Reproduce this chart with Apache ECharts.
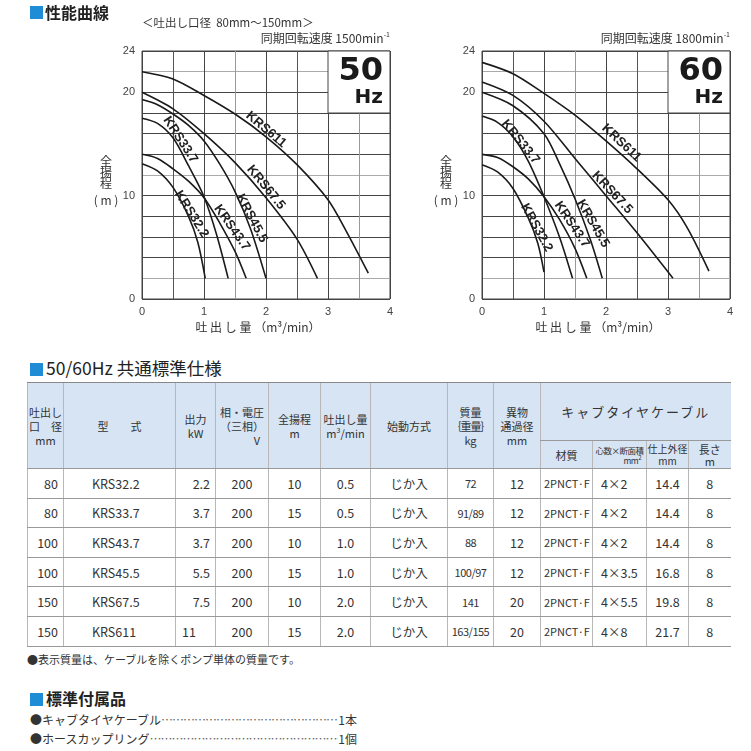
<!DOCTYPE html>
<html>
<head>
<meta charset="utf-8">
<title>性能曲線</title>
<script src="https://cdn.jsdelivr.net/npm/echarts@6/dist/echarts.min.js"></script>
<style>
body { margin: 0; background: #fff; font-family: "Noto Sans CJK JP", sans-serif; color: #333; }
#page { position: relative; width: 751px; height: 751px; overflow: hidden; }
#curves { position: absolute; left: 0; top: 0; width: 751px; height: 345px; }
.sec { position: absolute; left: 30px; font-size: 16px; line-height: 18px; color: #222; white-space: nowrap; }
.sec .sq { display: inline-block; width: 13px; height: 13px; background: #1f8dd6; margin-right: 3px; vertical-align: -1px; }
#spec { position: absolute; left: 27px; top: 382px; width: 703px; border-collapse: collapse; table-layout: fixed; font-size: 12.5px; color: #333; }
#spec th { background: #d6e4f4; font-weight: normal; font-size: 11px; line-height: 14px; padding: 0; border-left: 1px solid #b8b8b8; border-bottom: 1px solid #999; text-align: center; white-space: nowrap; overflow: hidden; }
#spec thead tr:first-child th { border-top: 1px solid #888; }
#spec td { height: 28.6px; padding: 0; border-left: 1px solid #b8b8b8; border-bottom: 1px solid #999; text-align: center; white-space: nowrap; overflow: hidden; }
#spec td.r { text-align: right; padding-right: 5px; }
#spec td.l { text-align: left; padding-left: 28px; }
#spec td.m { text-align: left; padding-left: 3px; font-size: 11px; }
#spec td.c4 { text-align: left; padding-left: 8px; }
.note { position: absolute; left: 27px; top: 651px; font-size: 11px; color: #333; }
.acc { position: absolute; left: 30px; width: 327px; display: flex; font-size: 12px; line-height: 14px; color: #333; white-space: nowrap; }
.acc .dots { flex: 1; overflow: hidden; color: #666; letter-spacing: -1px; }
</style>
</head>
<body>
<div id="page">
  <div id="curves"></div>
  <div class="sec" style="top:358px;font-size:17.5px;line-height:20px"><span class="sq"></span>50/60Hz 共通標準仕様</div>
  <table id="spec">
    <colgroup id="cols"></colgroup>
    <thead>
      <tr style="height:58px">
        <th rowspan="2">吐出し<br>口　径<br>mm</th>
        <th rowspan="2">型　　式</th>
        <th rowspan="2">出力<br>kW</th>
        <th rowspan="2">相・電圧<br>（三相）<br><span style="display:block;text-align:right;padding-right:8px">V</span></th>
        <th rowspan="2">全揚程<br>m</th>
        <th rowspan="2">吐出し量<br>m<sup style="font-size:7px;line-height:0">3</sup>/min</th>
        <th rowspan="2">始動方式</th>
        <th rowspan="2">質量<br><span style="letter-spacing:-1px">｛重量｝</span><br>kg</th>
        <th rowspan="2">異物<br>通過径<br>mm</th>
        <th colspan="4" style="font-size:13px;letter-spacing:2px">キャブタイヤケーブル</th>
      </tr>
      <tr style="height:28px">
        <th>材質</th>
        <th style="font-size:8.5px;line-height:10px;letter-spacing:-0.5px">心数×断面積<br><span style="display:block;text-align:right;padding-right:5px">mm<sup style="font-size:6px;line-height:0">2</sup></span></th>
        <th style="font-size:10px;line-height:12px">仕上外径<br>mm</th>
        <th style="line-height:12px">長さ<br>m</th>
      </tr>
    </thead>
    <tbody id="specBody"></tbody>
  </table>
  <div class="note">●表示質量は、ケーブルを除くポンプ単体の質量です。</div>
  <div class="sec" style="top:689px;font-weight:bold"><span class="sq"></span>標準付属品</div>
  <div class="acc" style="top:713px"><span>●キャブタイヤケーブル</span><span class="dots">……………………………………………………………………</span><span>1本</span></div>
  <div class="acc" style="top:732px"><span>●ホースカップリング</span><span class="dots">……………………………………………………………………</span><span>1個</span></div>
</div>
<script>
// head (m) against flow (m3/min)
const flowTicks = [0, 1, 2, 3, 4];
const headTicks = [0, 10, 20, 24];

const krs322_50 = [[0, 13.1], [0.25, 12.4], [0.5, 10.8], [0.75, 8.0], [0.9, 5.5], [1.02, 2.0]];
const krs337_50 = [[0, 17.5], [0.25, 17.0], [0.5, 15.6], [0.75, 12.9], [1.0, 9.9], [1.2, 6.3], [1.39, 2.0]];
const krs437_50 = [[0, 14.0], [0.25, 13.6], [0.5, 12.6], [0.75, 11.4], [1.0, 9.8], [1.25, 7.4], [1.5, 4.6], [1.68, 2.0]];
const krs455_50 = [[0, 19.3], [0.25, 18.8], [0.5, 17.9], [0.75, 16.8], [1.0, 15.3], [1.25, 13.1], [1.5, 10.4], [1.75, 6.8], [2.0, 2.0]];
const krs675_50 = [[0, 20.0], [0.5, 18.4], [1.0, 16.0], [1.5, 13.2], [2.0, 9.8], [2.5, 5.8], [2.83, 2.0]];
const krs611_50 = [[0, 22.0], [0.5, 21.3], [1.0, 19.7], [1.5, 17.9], [2.0, 15.7], [2.5, 13.0], [3.0, 9.6], [3.3, 6.5], [3.65, 2.5]];

const krs322_60 = [[0, 13.0], [0.25, 12.3], [0.5, 10.7], [0.75, 7.8], [0.9, 5.4], [1.0, 2.6]];
const krs337_60 = [[0, 17.7], [0.25, 17.1], [0.5, 15.7], [0.75, 13.3], [1.0, 9.9], [1.25, 6.0], [1.46, 2.0]];
const krs437_60 = [[0, 14.0], [0.25, 13.7], [0.5, 12.8], [0.75, 11.6], [1.0, 9.9], [1.25, 7.7], [1.5, 4.9], [1.69, 2.0]];
const krs455_60 = [[0, 20.0], [0.5, 18.7], [1.0, 16.0], [1.25, 13.1], [1.5, 9.7], [1.75, 5.7], [1.94, 2.0]];
const krs675_60 = [[0, 21.0], [0.5, 19.7], [1.0, 17.2], [1.5, 13.6], [2.0, 10.0], [2.5, 6.4], [3.08, 2.0]];
const krs611_60 = [[0, 22.9], [0.5, 21.8], [1.0, 19.9], [1.5, 17.8], [2.0, 15.3], [2.5, 12.6], [3.0, 9.6], [3.3, 7.0], [3.66, 2.7]];

const modelNames = ['KRS32.2', 'KRS33.7', 'KRS43.7', 'KRS45.5', 'KRS67.5', 'KRS611'];

// spec table columns
const boreMm = ['80', '80', '100', '100', '150', '150'];
const outputKw = ['2.2', '3.7', '3.7', '5.5', '7.5', '11'];
const voltageV = ['200', '200', '200', '200', '200', '200'];
const ratedHead = ['10', '15', '10', '15', '10', '15'];
const ratedFlow = ['0.5', '0.5', '1.0', '1.0', '2.0', '2.0'];
const startMethod = ['じか入', 'じか入', 'じか入', 'じか入', 'じか入', 'じか入'];
const massKg = ['72', '91/89', '88', '100/97', '141', '163/155'];
const solidsMm = ['12', '12', '12', '12', '20', '20'];
const cableType = ['2PNCT·F', '2PNCT·F', '2PNCT·F', '2PNCT·F', '2PNCT·F', '2PNCT·F'];
const cableCores = ['4×2', '4×2', '4×2', '4×3.5', '4×5.5', '4×8'];
const cableOd = ['14.4', '14.4', '14.4', '16.8', '19.8', '21.7'];
const cableLen = ['8', '8', '8', '8', '8', '8'];

// where the model names sit on each sheet: [flow, head, angle]
const tagSpots50 = [[0.8, 8.2, -58], [0.62, 15.4, -57], [1.45, 6.9, -55], [1.77, 7.8, -62], [2.0, 10.8, -51], [2.0, 16.4, -40]];
const tagSpots60 = [[0.88, 6.9, -61], [0.62, 15.2, -51], [1.45, 7.2, -56], [1.79, 7.3, -60], [2.1, 10.3, -47], [2.25, 15.1, -43]];

const colWidths = [36, 112, 40, 53, 52, 50, 77, 46, 47, 52, 54, 42, 42];

// ---- table ----
document.getElementById('cols').innerHTML = colWidths.map(w => '<col style="width:' + w + 'px">').join('');
let rows = '';
for (let i = 0; i < modelNames.length; i++) {
	rows += '<tr>' +
		'<td class="r">' + boreMm[i] + '</td>' +
		'<td class="l">' + modelNames[i] + '</td>' +
		'<td class="r"' + (outputKw[i] === '11' ? ' style="text-align:left;padding-left:6px"' : '') + '>' + outputKw[i] + '</td>' +
		'<td>' + voltageV[i] + '</td>' +
		'<td>' + ratedHead[i] + '</td>' +
		'<td>' + ratedFlow[i] + '</td>' +
		'<td>' + startMethod[i] + '</td>' +
		'<td style="font-size:11px;letter-spacing:-0.5px">' + massKg[i] + '</td>' +
		'<td>' + solidsMm[i] + '</td>' +
		'<td class="m">' + cableType[i] + '</td>' +
		'<td class="c4">' + cableCores[i] + '</td>' +
		'<td>' + cableOd[i] + '</td>' +
		'<td>' + cableLen[i] + '</td>' +
		'</tr>';
}
document.getElementById('specBody').innerHTML = rows;

// ---- curves ----
const chart = echarts.init(document.getElementById('curves'), null, { renderer: 'canvas' });

const xLineColors = ['#444', '#555', '#444', '#999', '#444', '#555', '#444', '#999', '#444'];
const yLineColors = ['#444', '#aaa', '#444', '#444', '#444', '#444', '#aaa', '#444', '#444', '#444', '#444', '#aaa', '#444'];

const grids = [
	{ left: 142, top: 51, width: 248, height: 248, show: true, borderColor: '#444', borderWidth: 1 },
	{ left: 482, top: 51, width: 248, height: 248, show: true, borderColor: '#444', borderWidth: 1 }
];

const makeX = idx => ({
	type: 'value', gridIndex: idx, min: 0, max: 4, interval: 0.5,
	axisLine: { show: false }, axisTick: { show: false },
	axisLabel: {
		margin: 7, fontSize: 11, color: '#444', fontFamily: 'Liberation Sans',
		formatter: v => (flowTicks.indexOf(v) >= 0 ? String(v) : '')
	},
	splitLine: { show: true, lineStyle: { color: xLineColors, width: 1 } }
});
const makeY = idx => ({
	type: 'value', gridIndex: idx, min: 0, max: 24, interval: 2,
	axisLine: { show: false }, axisTick: { show: false },
	axisLabel: {
		margin: 7, fontSize: 11, color: '#444', fontFamily: 'Liberation Sans',
		formatter: v => (headTicks.indexOf(v) >= 0 ? String(v) : '')
	},
	splitLine: { show: true, lineStyle: { color: yLineColors, width: 1 } }
});

const sheets = [
	{ curves: [krs322_50, krs337_50, krs437_50, krs455_50, krs675_50, krs611_50], tags: tagSpots50 },
	{ curves: [krs322_60, krs337_60, krs437_60, krs455_60, krs675_60, krs611_60], tags: tagSpots60 }
];

const series = [];
sheets.forEach((sheet, g) => {
	sheet.curves.forEach((pts, k) => {
		const tag = sheet.tags[k];
		series.push({
			name: modelNames[k] + (g === 0 ? ' 50Hz' : ' 60Hz'),
			type: 'line',
			xAxisIndex: g,
			yAxisIndex: g,
			data: pts,
			smooth: 0.3,
			symbol: 'none',
			lineStyle: { color: '#1a1a1a', width: 1.6 },
			silent: true,
			markPoint: {
				symbol: 'circle', symbolSize: 1, silent: true,
				itemStyle: { color: 'rgba(0,0,0,0)' },
				label: {
					show: true, position: 'inside', formatter: modelNames[k], rotate: tag[2],
					fontFamily: 'Liberation Sans', fontWeight: 'bold', fontSize: 13, color: '#222'
				},
				data: [{ coord: [tag[0], tag[1]] }]
			},
			markArea: k === 0 ? {
				silent: true,
				itemStyle: { color: '#fff', borderColor: '#444', borderWidth: 1 },
				data: [[{ coord: [3, 18] }, { coord: [4, 24] }]]
			} : undefined
		});
	});
});

const jp = '"Noto Sans CJK JP", sans-serif';
const sheetText = (dx, hz, rpm) => [
	{ type: 'text', z: 100, x: 390 + dx, y: 38, style: { text: '{a|同期回転速度 ' + rpm + 'min}{s|-1}', align: 'right', verticalAlign: 'middle',
		rich: { a: { fontSize: 12, fontFamily: jp, fill: '#333' }, s: { fontSize: 7, fontFamily: jp, fill: '#333', padding: [0, 0, 7, 0] } } } },
	{ type: 'text', z: 100, x: 383 + dx, y: 72, style: { text: hz, align: 'right', verticalAlign: 'middle', font: 'bold 32px "DejaVu Sans"', fill: '#1a1a1a' } },
	{ type: 'text', z: 100, x: 383 + dx, y: 98, style: { text: 'Hz', align: 'right', verticalAlign: 'middle', font: 'bold 20px "DejaVu Sans"', fill: '#1a1a1a' } },
	{ type: 'text', z: 100, x: 106 + dx, y: 156, style: { text: '全\n揚\n程', align: 'center', verticalAlign: 'top', font: '12px ' + jp, lineHeight: 11, fill: '#333' } },
	{ type: 'text', z: 100, x: 106 + dx, y: 200, style: { text: '( m )', align: 'center', verticalAlign: 'middle', font: '12px ' + jp, fill: '#333' } },
	{ type: 'text', z: 100, x: 258 + dx, y: 327, style: { text: '吐 出 し 量 （m³/min）', align: 'center', verticalAlign: 'middle', font: '12px ' + jp, fill: '#333' } }
];

const option = {
	animation: false,
	backgroundColor: '#fff',
	grid: grids,
	xAxis: [makeX(0), makeX(1)],
	yAxis: [makeY(0), makeY(1)],
	series: series,
	graphic: [
		{ type: 'rect', z: 100, shape: { x: 30, y: 6, width: 13, height: 13 }, style: { fill: '#1f8dd6' } },
		{ type: 'text', z: 100, x: 45, y: 13, style: { text: '性能曲線', verticalAlign: 'middle', font: 'bold 16px ' + jp, fill: '#222' } },
		{ type: 'text', z: 100, x: 142, y: 23, style: { text: '＜吐出し口径  80mm～150mm＞', verticalAlign: 'middle', font: '11.5px ' + jp, fill: '#333' } }
	].concat(sheetText(0, '50', '1500'), sheetText(340, '60', '1800'))
};

chart.setOption(option);
</script>
</body>
</html>
